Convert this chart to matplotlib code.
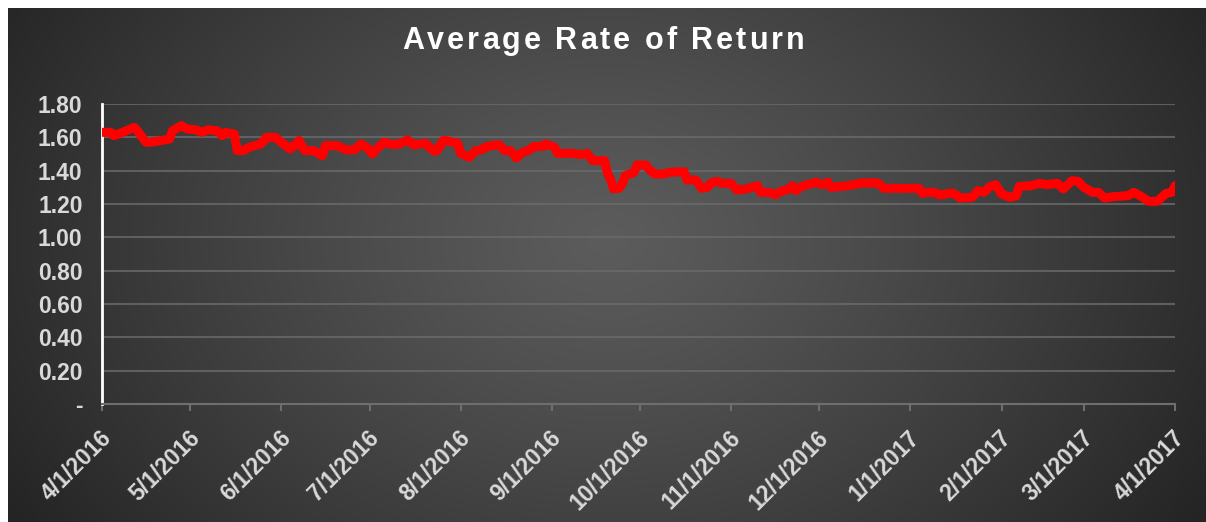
import numpy as np
import pandas as pd
import matplotlib
matplotlib.use("Agg")
import matplotlib.pyplot as plt
import matplotlib.dates as mdates
import matplotlib.transforms as mtransforms
from matplotlib.ticker import FuncFormatter

plt.rcParams["font.family"] = ["Liberation Sans", "DejaVu Sans"]

# days after 4/1/2016
days = [0, 3, 4, 7, 11, 12, 15, 16, 20, 23, 24, 27, 29, 32, 34, 36, 39, 41, 42, 45,
        46, 48, 50, 54, 56, 59, 61, 64, 66, 67, 69, 72, 75, 76, 80, 83, 86, 88, 90, 92,
        94, 96, 99, 101, 104, 106, 110, 113, 114, 116, 117, 121, 122, 125, 127, 129, 131,
        135, 137, 139, 141, 143, 145, 147, 150, 151, 154, 155, 160, 163, 165, 167, 171,
        172, 173, 174, 176, 177, 178, 181, 182, 185, 186, 188, 191, 193, 198, 199, 202,
        204, 206, 207, 209, 211, 214, 216, 219, 223, 224, 227, 229, 231, 233, 235, 236,
        238, 240, 243, 245, 247, 248, 252, 256, 258, 264, 266, 278, 279, 281, 283, 285,
        289, 290, 292, 296, 298, 300, 302, 304, 306, 309, 311, 312, 316, 319, 321, 325,
        327, 330, 332, 334, 337, 339, 341, 344, 349, 351, 354, 356, 359, 362, 364, 365]
returns = [1.63, 1.63, 1.61, 1.63, 1.66, 1.64, 1.57, 1.57, 1.58, 1.59, 1.64, 1.67, 1.65,
           1.645, 1.63, 1.645, 1.64, 1.61, 1.63, 1.62, 1.52, 1.52, 1.54, 1.56, 1.60, 1.60,
           1.57, 1.53, 1.56, 1.58, 1.52, 1.52, 1.49, 1.55, 1.55, 1.525, 1.525, 1.56, 1.54,
           1.50, 1.54, 1.57, 1.556, 1.56, 1.584, 1.554, 1.564, 1.516, 1.52, 1.58, 1.58,
           1.564, 1.504, 1.48, 1.52, 1.524, 1.546, 1.556, 1.52, 1.52, 1.476, 1.51, 1.52,
           1.546, 1.546, 1.56, 1.54, 1.504, 1.504, 1.496, 1.504, 1.46, 1.46, 1.38, 1.35,
           1.29, 1.296, 1.32, 1.37, 1.39, 1.434, 1.434, 1.41, 1.38, 1.38, 1.39, 1.394,
           1.344, 1.344, 1.294, 1.30, 1.324, 1.336, 1.324, 1.324, 1.284, 1.29, 1.31, 1.27,
           1.27, 1.256, 1.276, 1.284, 1.31, 1.28, 1.306, 1.316, 1.33, 1.316, 1.33, 1.30,
           1.306, 1.316, 1.326, 1.326, 1.294, 1.294, 1.264, 1.27, 1.27, 1.254, 1.266, 1.26,
           1.236, 1.24, 1.28, 1.27, 1.304, 1.316, 1.26, 1.24, 1.25, 1.306, 1.31, 1.324,
           1.316, 1.324, 1.29, 1.34, 1.336, 1.30, 1.27, 1.27, 1.236, 1.244, 1.25, 1.27,
           1.24, 1.216, 1.216, 1.264, 1.27, 1.31]
title = "Average Rate of Return"
start = pd.Timestamp("2016-04-01")
end = pd.Timestamp("2017-04-01")
dates = start + pd.to_timedelta(days, unit="D")
month_ticks = pd.date_range(start, end, freq="MS")

W, H = 1206, 522
fig = plt.figure(figsize=(W / 100, H / 100), dpi=100)
fig.patch.set_facecolor("white")

# dark radial background
bg = fig.add_axes([8 / W, 0, 1 - 8 / W, 1 - 8 / H])
bg.axis("off")
gx, gy = np.meshgrid(np.linspace(0, 1, 600), np.linspace(0, 1, 300))
d = np.sqrt(((gx - 0.5) / 0.58) ** 2 + ((gy - 0.55) / 1.0) ** 2)
d = np.clip(d, 0, 1) ** 1.2
c_in, c_out = 0.36, 0.145
img = c_in + (c_out - c_in) * d
bg.imshow(np.dstack([img, img, img]), extent=[0, 1, 0, 1], aspect="auto", origin="lower")

ax = fig.add_axes([102 / W, (H - 404) / H, (1175 - 102) / W, 300 / H])
ax.set_facecolor("none")
ax.plot(dates, returns, color="#ff0000", lw=6.5, solid_capstyle="round",
        solid_joinstyle="round", zorder=3)

ax.set_xlim(start, end)
ax.set_ylim(0, 1.8)
ax.set_yticks(np.arange(0, 1.81, 0.2))
ax.yaxis.set_major_formatter(FuncFormatter(lambda v, p: "-" if abs(v) < 1e-9 else f"{v:.2f}"))
ax.grid(axis="y", color="#6a6a6a", lw=1.5, alpha=0.8)
ax.set_axisbelow(True)

ax.set_xticks(month_ticks)
ax.xaxis.set_major_formatter(FuncFormatter(
    lambda v, p: f"{mdates.num2date(v).month}/{mdates.num2date(v).day}/{mdates.num2date(v).year}"))
ax.tick_params(axis="x", colors="#6e6e6e", length=5, width=1.5, pad=17,
               labelcolor="#d9d9d9", labelsize=16.5)
ax.tick_params(axis="y", length=0, pad=14, labelcolor="#d9d9d9", labelsize=16.5)
shift = mtransforms.ScaledTranslation(6 / 100, 0, fig.dpi_scale_trans)
for lab in ax.get_xticklabels():
    lab.set_rotation(45)
    lab.set_ha("right")
    lab.set_va("center")
    lab.set_rotation_mode("anchor")
    lab.set_fontweight("bold")
    lab.set_transform(lab.get_transform() + shift)
for lab in ax.get_yticklabels():
    lab.set_fontweight("bold")

for s in ["top", "right"]:
    ax.spines[s].set_visible(False)
ax.spines["left"].set_color("white")
ax.spines["left"].set_linewidth(2)
ax.spines["bottom"].set_color("#6e6e6e")
ax.spines["bottom"].set_linewidth(1.5)

# letter-spaced title, placed char by char
renderer = fig.canvas.get_renderer()
spacing = 3.0
ty = 1 - 41 / H
widths = []
for ch in title:
    t = fig.text(0, ty, ch if ch != " " else "a", fontsize=22, fontweight="bold")
    bb = t.get_window_extent(renderer)
    widths.append(bb.width if ch != " " else bb.width * 0.5)
    t.remove()
total = sum(widths) + spacing * (len(title) - 1)
x = W / 2 - total / 2
for ch, w in zip(title, widths):
    if ch != " ":
        fig.text(x / W, ty, ch, ha="left", va="center", color="white",
                 fontsize=22, fontweight="bold")
    x += w + spacing

fig.savefig("out.png", dpi=100, facecolor=fig.get_facecolor())
